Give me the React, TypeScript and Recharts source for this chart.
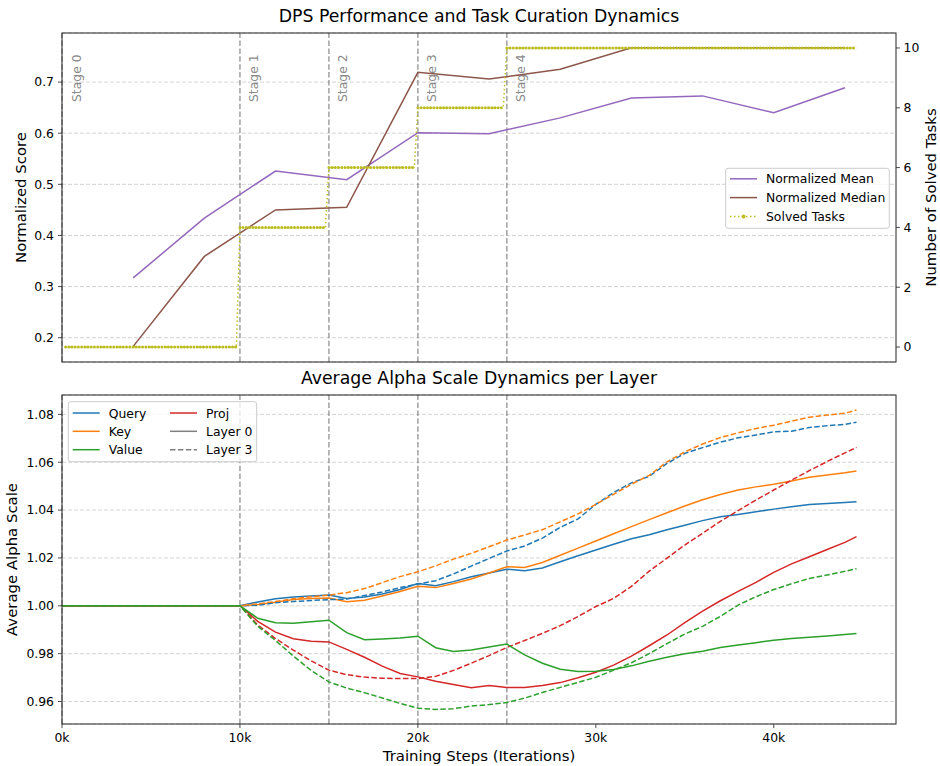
import React from 'react';
import { ComposedChart, Line, XAxis, YAxis, CartesianGrid, ReferenceLine } from 'recharts';

const FONT = '"DejaVu Sans", sans-serif';

// top panel: evaluation scores (every 4k steps)
const evalSteps = [4000, 8000, 12000, 16000, 20000, 24000, 28000, 32000, 36000, 40000, 44000];
const normMean = [0.317, 0.434, 0.526, 0.509, 0.601, 0.599, 0.63, 0.669, 0.673, 0.64, 0.689];
const normMedian = [0.183, 0.359, 0.45, 0.455, 0.719, 0.706, 0.725, 0.767, 0.767, 0.767, 0.767];

// solved tasks per curriculum stage
const solvedSteps = [200, 9800, 10000, 14800, 15000, 19800, 20000, 24800, 25000, 44650];
const solvedTasks = [0, 0, 4, 4, 6, 6, 8, 8, 10, 10];

const stageSteps = [0, 10000, 15000, 20000, 25000];
const stageNames = ['Stage 0', 'Stage 1', 'Stage 2', 'Stage 3', 'Stage 4'];

// bottom panel: alpha scales
const alphaSteps = [0, 10000, 11000, 12000, 13000, 14000, 15000, 16000, 17000, 18000, 19000, 20000, 21000, 22000, 23000, 24000, 25000, 26000, 27000, 28000, 29000, 30000, 31000, 32000, 33000, 34000, 35000, 36000, 37000, 38000, 39000, 40000, 41000, 42000, 43000, 44000, 44650];
const queryL0 = [1.0, 1.0, 1.0016, 1.0029, 1.0037, 1.0041, 1.0045, 1.0031, 1.0037, 1.0049, 1.0068, 1.0093, 1.0084, 1.0101, 1.0121, 1.0137, 1.0153, 1.0147, 1.0158, 1.0184, 1.0209, 1.0233, 1.0257, 1.028, 1.0297, 1.0318, 1.0337, 1.0356, 1.0372, 1.0382, 1.0393, 1.0404, 1.0414, 1.0423, 1.0428, 1.0432, 1.0435];
const keyL0 = [1.0, 1.0, 1.0005, 1.0015, 1.0026, 1.003, 1.0033, 1.0017, 1.0023, 1.0041, 1.006, 1.0082, 1.0076, 1.0093, 1.0112, 1.0137, 1.0163, 1.016, 1.0181, 1.0211, 1.0241, 1.0271, 1.0301, 1.0331, 1.036, 1.0389, 1.0417, 1.0443, 1.0465, 1.0484, 1.0497, 1.0508, 1.0522, 1.0537, 1.0547, 1.0556, 1.0563];
const valueL0 = [1.0, 1.0, 0.9948, 0.9929, 0.9927, 0.9933, 0.994, 0.9888, 0.9858, 0.9861, 0.9865, 0.9873, 0.9825, 0.9809, 0.9815, 0.9828, 0.984, 0.9795, 0.976, 0.9735, 0.9725, 0.9726, 0.9734, 0.9749, 0.9768, 0.9785, 0.98, 0.981, 0.9826, 0.9836, 0.9846, 0.9856, 0.9863, 0.9869, 0.9874, 0.988, 0.9884];
const projL0 = [1.0, 1.0, 0.9935, 0.989, 0.9862, 0.9852, 0.9849, 0.9818, 0.9785, 0.9748, 0.9717, 0.9703, 0.9685, 0.9671, 0.9658, 0.9667, 0.9659, 0.9659, 0.9667, 0.9679, 0.9699, 0.9722, 0.9752, 0.979, 0.9833, 0.9878, 0.993, 0.9978, 1.0021, 1.006, 1.0098, 1.014, 1.0175, 1.0205, 1.0235, 1.0265, 1.0289];
const queryL3 = [1.0, 1.0, 1.0002, 1.0013, 1.0018, 1.0022, 1.0026, 1.0028, 1.0043, 1.0058, 1.0076, 1.0091, 1.0105, 1.0133, 1.0166, 1.0198, 1.0229, 1.025, 1.0283, 1.0328, 1.0363, 1.0424, 1.0473, 1.0514, 1.0541, 1.0595, 1.0637, 1.0661, 1.0684, 1.0702, 1.0714, 1.0727, 1.073, 1.0745, 1.0753, 1.0758, 1.0767];
const keyL3 = [1.0, 1.0, 1.0008, 1.0018, 1.0029, 1.0038, 1.0045, 1.0055, 1.0072, 1.0097, 1.0122, 1.0142, 1.0167, 1.0195, 1.0219, 1.0247, 1.0275, 1.0296, 1.0318, 1.0351, 1.0384, 1.0424, 1.0466, 1.0508, 1.0545, 1.0602, 1.0643, 1.0676, 1.0703, 1.0723, 1.0741, 1.0755, 1.0772, 1.0788, 1.0797, 1.0805, 1.0818];
const valueL3 = [1.0, 1.0, 0.9915, 0.9855, 0.979, 0.973, 0.9682, 0.9656, 0.9637, 0.9615, 0.9592, 0.9572, 0.9567, 0.957, 0.9581, 0.9587, 0.9596, 0.9614, 0.9638, 0.9659, 0.968, 0.9701, 0.9731, 0.9762, 0.98, 0.9842, 0.9882, 0.9914, 0.9956, 1.0003, 1.0038, 1.0068, 1.0092, 1.0114, 1.0129, 1.0144, 1.0155];
const projL3 = [1.0, 1.0, 0.992, 0.9863, 0.9815, 0.977, 0.9731, 0.9712, 0.9702, 0.9697, 0.9696, 0.9696, 0.9705, 0.973, 0.976, 0.9792, 0.9826, 0.9855, 0.9885, 0.9917, 0.9955, 0.9997, 1.0031, 1.0081, 1.0145, 1.0199, 1.0254, 1.0303, 1.0353, 1.0398, 1.0442, 1.0484, 1.0525, 1.0565, 1.0603, 1.0639, 1.0662];

const xTicks = [0, 10000, 20000, 30000, 40000];
const scoreTicks = [0.2, 0.3, 0.4, 0.5, 0.6, 0.7];
const taskTicks = [0, 2, 4, 6, 8, 10];
const alphaTicks = [0.96, 0.98, 1.0, 1.02, 1.04, 1.06, 1.08];

const C = {
  blue: '#1f77b4', orange: '#ff7f0e', green: '#2ca02c', red: '#d62728',
  purple: '#9467bd', brown: '#8c564b', olive: '#bcbd22', gray: '#808080',
};

const meanData = evalSteps.map((s, i) => ({ step: s, mean: normMean[i] }));
const medianData = evalSteps.map((s, i) => ({ step: s, median: normMedian[i] }));
const solvedData = solvedSteps.map((s, i) => ({ step: s, tasks: solvedTasks[i] }));
// same points, broken between stages so the markers only sit on the flat parts
const solvedBeads: { step: number; tasks: number | null }[] = [];
solvedData.forEach((d, i) => {
  solvedBeads.push(d);
  const next = solvedData[i + 1];
  if (next && next.tasks !== d.tasks) solvedBeads.push({ step: (d.step + next.step) / 2, tasks: null });
});

const alphaRows = alphaSteps.map((s, i) => ({
  step: s,
  qL0: queryL0[i], kL0: keyL0[i], vL0: valueL0[i], pL0: projL0[i],
  qL3: queryL3[i], kL3: keyL3[i], vL3: valueL3[i], pL3: projL3[i],
}));

const X_DOMAIN = [0, 46870];
const tickStyle = { fontSize: 12.4, fill: '#000', fontFamily: FONT };
const gridProps = { stroke: '#b0b0b0', strokeOpacity: 0.7, strokeDasharray: '4 2', strokeWidth: 0.8 };
const stageLine = { stroke: C.gray, strokeOpacity: 0.75, strokeWidth: 1.5, strokeDasharray: '5.5 2.4' };

const stageLabel = (name: string) => (props: any) => {
  const vb = props.viewBox || { x: 0, y: 0 };
  const x = vb.x + 18.5;
  const y = vb.y + 69;
  return (
    <text x={x} y={y} transform={`rotate(-90 ${x} ${y})`} fontSize={12.4} fill="#8a8a8a" fontFamily={FONT}>
      {name}
    </text>
  );
};

function LegendRow({ x, y, color, dash, label, marker }: any) {
  return (
    <g>
      <line x1={x} x2={x + 27} y1={y} y2={y} stroke={color} strokeWidth={1.5} strokeDasharray={dash} />
      {marker && <circle cx={x + 13.5} cy={y} r={2} fill={color} />}
      <text x={x + 36} y={y + 4.5} fontSize={12.4} fontFamily={FONT} fill="#000">{label}</text>
    </g>
  );
}

export default function App() {
  return (
    <div style={{ position: 'relative', width: 940, height: 766, background: '#fff' }}>
      <style>{'body{margin:0}'}</style>

      <div style={{ position: 'absolute', left: 0, top: 0 }}>
        <ComposedChart width={940} height={380} margin={{ top: 33, right: 0, bottom: 0, left: 0 }}>
          <CartesianGrid yAxisId="score" vertical={false} {...gridProps} />
          <XAxis dataKey="step" type="number" domain={X_DOMAIN} ticks={xTicks} allowDataOverflow
            height={18} axisLine={false} tick={false} tickSize={4} tickLine={{ stroke: '#222', strokeWidth: 0.8 }} />
          <YAxis yAxisId="score" orientation="left" width={62} type="number" domain={[0.1525, 0.796]} ticks={scoreTicks}
            allowDataOverflow axisLine={false} tickSize={4} tickMargin={4} tickLine={{ stroke: '#222', strokeWidth: 0.8 }}
            tick={tickStyle} tickFormatter={(v: number) => v.toFixed(1)} />
          <YAxis yAxisId="tasks" orientation="right" width={44} type="number" domain={[-0.5, 10.5]} ticks={taskTicks}
            allowDataOverflow axisLine={false} tickSize={4} tickMargin={3.5} tickLine={{ stroke: '#222', strokeWidth: 0.8 }}
            tick={{ ...tickStyle, textAnchor: 'start' }} />
          {stageSteps.map((s, i) => (
            <ReferenceLine key={s} x={s} yAxisId="score" {...stageLine} label={stageLabel(stageNames[i])} />
          ))}
          <Line yAxisId="score" data={meanData} dataKey="mean" stroke={C.purple} strokeWidth={1.5} dot={false} isAnimationActive={false} />
          <Line yAxisId="score" data={medianData} dataKey="median" stroke={C.brown} strokeWidth={1.5} dot={false} isAnimationActive={false} />
          <Line yAxisId="tasks" data={solvedData} dataKey="tasks" stroke={C.olive} strokeWidth={1.5} strokeDasharray="1.5 2.5"
            dot={false} isAnimationActive={false} />
          <Line yAxisId="tasks" data={solvedBeads} dataKey="tasks" stroke={C.olive} strokeWidth={3} strokeDasharray="0.01 3.2"
            strokeLinecap="round" dot={false} isAnimationActive={false} />
        </ComposedChart>
      </div>

      <div style={{ position: 'absolute', left: 0, top: 380 }}>
        <ComposedChart width={940} height={386} data={alphaRows} margin={{ top: 15, right: 44, bottom: 0, left: 0 }}>
          <CartesianGrid vertical={false} {...gridProps} />
          <XAxis dataKey="step" type="number" domain={X_DOMAIN} ticks={xTicks} allowDataOverflow
            height={42} axisLine={false} tickSize={4} tickMargin={5} tickLine={{ stroke: '#222', strokeWidth: 0.8 }}
            tick={tickStyle} tickFormatter={(v: number) => `${v / 1000}k`} />
          <YAxis width={62} type="number" domain={[0.9506, 1.0881]} ticks={alphaTicks} allowDataOverflow
            axisLine={false} tickSize={4} tickMargin={4} tickLine={{ stroke: '#222', strokeWidth: 0.8 }}
            tick={tickStyle} tickFormatter={(v: number) => v.toFixed(2)} />
          {stageSteps.map((s) => (
            <ReferenceLine key={s} x={s} {...stageLine} />
          ))}
          <Line dataKey="qL0" stroke={C.blue} strokeWidth={1.5} dot={false} isAnimationActive={false} />
          <Line dataKey="kL0" stroke={C.orange} strokeWidth={1.5} dot={false} isAnimationActive={false} />
          <Line dataKey="pL0" stroke={C.red} strokeWidth={1.5} dot={false} isAnimationActive={false} />
          <Line dataKey="qL3" stroke={C.blue} strokeWidth={1.5} strokeDasharray="5.5 2.4" dot={false} isAnimationActive={false} />
          <Line dataKey="kL3" stroke={C.orange} strokeWidth={1.5} strokeDasharray="5.5 2.4" dot={false} isAnimationActive={false} />
          <Line dataKey="pL3" stroke={C.red} strokeWidth={1.5} strokeDasharray="5.5 2.4" dot={false} isAnimationActive={false} />
          <Line dataKey="vL3" stroke={C.green} strokeWidth={1.5} strokeDasharray="5.5 2.4" dot={false} isAnimationActive={false} />
          <Line dataKey="vL0" stroke={C.green} strokeWidth={1.5} dot={false} isAnimationActive={false} />
        </ComposedChart>
      </div>

      <svg width={940} height={766} style={{ position: 'absolute', left: 0, top: 0, pointerEvents: 'none' }} fontFamily={FONT}>
        {/* frames */}
        <rect x={62} y={33} width={834} height={329} fill="none" stroke="#222" strokeWidth={1} />
        <rect x={62} y={395} width={834} height={329} fill="none" stroke="#222" strokeWidth={1} />

        {/* titles and axis labels */}
        <text x={479} y={21.8} textAnchor="middle" fontSize={17.3} fill="#000">DPS Performance and Task Curation Dynamics</text>
        <text x={479} y={384} textAnchor="middle" fontSize={17.3} fill="#000">Average Alpha Scale Dynamics per Layer</text>
        <text x={479} y={761} textAnchor="middle" fontSize={14.9} fill="#000">Training Steps (Iterations)</text>
        <text x={26} y={197.5} transform="rotate(-90 26 197.5)" textAnchor="middle" fontSize={14.9} fill="#000">Normalized Score</text>
        <text x={935.5} y={197.5} transform="rotate(-90 935.5 197.5)" textAnchor="middle" fontSize={14.9} fill="#000">Number of Solved Tasks</text>
        <text x={17} y={559.5} transform="rotate(-90 17 559.5)" textAnchor="middle" fontSize={14.9} fill="#000">Average Alpha Scale</text>

        {/* top legend */}
        <rect x={725.7} y={168.3} width={163.6} height={60} rx={2.5} fill="#fff" fillOpacity={0.8} stroke="#cccccc" strokeWidth={1} />
        <LegendRow x={730} y={178.8} color={C.purple} label="Normalized Mean" />
        <LegendRow x={730} y={197.6} color={C.brown} label="Normalized Median" />
        <LegendRow x={730} y={216.6} color={C.olive} dash="1.5 2.5" marker label="Solved Tasks" />

        {/* bottom legend */}
        <rect x={68.3} y={401.7} width={188.4} height={60} rx={2.5} fill="#fff" fillOpacity={0.8} stroke="#cccccc" strokeWidth={1} />
        <LegendRow x={72.7} y={413} color={C.blue} label="Query" />
        <LegendRow x={72.7} y={431.3} color={C.orange} label="Key" />
        <LegendRow x={72.7} y={449.7} color={C.green} label="Value" />
        <LegendRow x={170} y={413} color={C.red} label="Proj" />
        <LegendRow x={170} y={431.3} color={C.gray} label="Layer 0" />
        <LegendRow x={170} y={449.7} color={C.gray} dash="5.5 2.4" label="Layer 3" />
      </svg>
    </div>
  );
}
